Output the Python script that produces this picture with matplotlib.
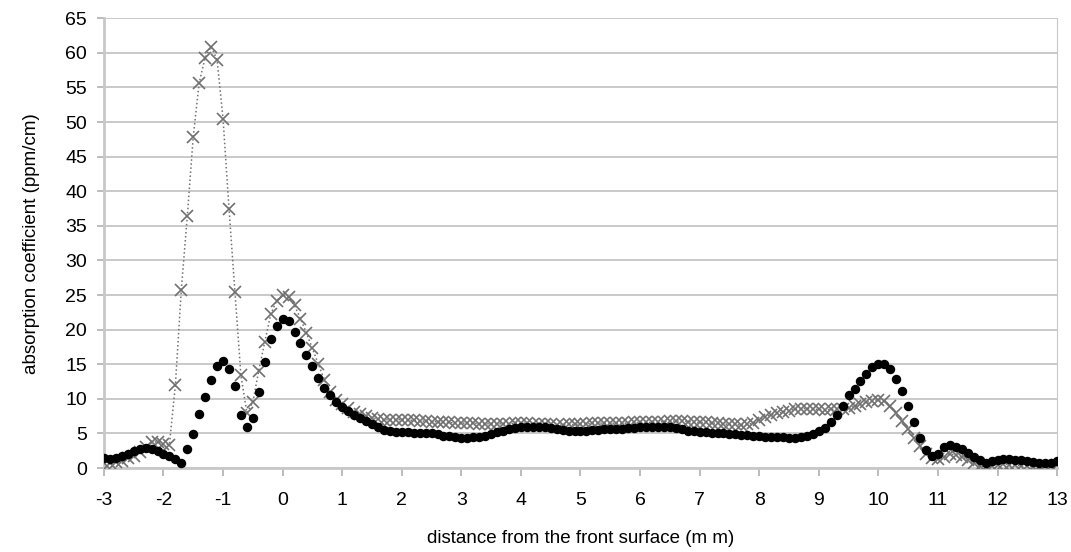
import numpy as np
import matplotlib.pyplot as plt

plt.rcParams['font.family'] = ['Liberation Sans', 'DejaVu Sans']
plt.rcParams['axes.unicode_minus'] = False

# positions along the sample (mm), 0.1 mm step
x = np.round(np.arange(-3.0, 13.05, 0.1), 1)

# black circles
black = [
    1.4, 1.3, 1.4, 1.7, 2.1, 2.5, 2.8, 2.9, 2.8, 2.5,     # -3.0 .. -2.1
    2.1, 1.7, 1.3, 0.8, 2.8, 4.9, 7.8, 10.3, 12.8, 14.7,  # -2.0 .. -1.1
    15.5, 14.3, 11.8, 7.7, 5.9, 7.2, 11.0, 15.3, 18.7, 20.6,  # -1.0 .. -0.1
    21.6, 21.2, 19.7, 18.1, 16.3, 14.8, 13.0, 11.6, 10.5, 9.6,  # 0.0 .. 0.9
    8.8, 8.2, 7.7, 7.2, 6.8, 6.4, 5.9, 5.5, 5.3, 5.2,     # 1.0 .. 1.9
    5.2, 5.2, 5.1, 5.1, 5.0, 5.0, 4.9, 4.7, 4.6, 4.5,     # 2.0 .. 2.9
    4.4, 4.4, 4.5, 4.5, 4.7, 4.9, 5.2, 5.4, 5.6, 5.8,     # 3.0 .. 3.9
    5.9, 6.0, 6.0, 6.0, 5.9, 5.8, 5.7, 5.5, 5.4, 5.4,     # 4.0 .. 4.9
    5.4, 5.4, 5.5, 5.5, 5.6, 5.7, 5.7, 5.7, 5.8, 5.8,     # 5.0 .. 5.9
    5.9, 6.0, 6.0, 6.0, 6.0, 6.0, 5.8, 5.6, 5.4, 5.3,     # 6.0 .. 6.9
    5.2, 5.2, 5.1, 5.1, 5.0, 4.9, 4.9, 4.8, 4.8, 4.7,     # 7.0 .. 7.9
    4.6, 4.5, 4.5, 4.5, 4.5, 4.4, 4.4, 4.5, 4.7, 4.9,     # 8.0 .. 8.9
    5.3, 5.8, 6.6, 7.6, 8.9, 10.5, 11.4, 12.6, 13.6, 14.6,  # 9.0 .. 9.9
    15.1, 15.0, 14.3, 12.9, 11.1, 9.0, 6.7, 4.4, 2.6, 1.8,  # 10.0 .. 10.9
    2.0, 3.0, 3.3, 3.1, 2.7, 2.2, 1.6, 1.1, 0.8, 1.0,     # 11.0 .. 11.9
    1.2, 1.3, 1.3, 1.2, 1.1, 1.0, 0.9, 0.8, 0.8, 0.8,     # 12.0 .. 12.9
    1.0,                                                  # 13.0
]

# grey crosses
grey = [
    0.8, 0.8, 0.9, 1.0, 1.4, 1.8, 2.3, 3.0, 3.7, 3.8,     # -3.0 .. -2.1
    3.5, 3.4, 12.0, 25.8, 36.4, 47.9, 55.7, 59.3, 60.9, 59.0,  # -2.0 .. -1.1
    50.5, 37.5, 25.5, 13.4, 8.0, 9.5, 14.1, 18.2, 22.2, 24.2,  # -1.0 .. -0.1
    25.0, 24.7, 23.5, 21.6, 19.5, 17.3, 15.0, 12.8, 11.0, 9.9,  # 0.0 .. 0.9
    9.2, 8.7, 8.1, 7.8, 7.5, 7.3, 7.1, 7.0, 7.0, 7.0,     # 1.0 .. 1.9
    7.0, 6.9, 6.9, 6.8, 6.8, 6.7, 6.7, 6.6, 6.6, 6.5,     # 2.0 .. 2.9
    6.5, 6.5, 6.5, 6.4, 6.4, 6.4, 6.4, 6.4, 6.4, 6.5,     # 3.0 .. 3.9
    6.5, 6.5, 6.4, 6.4, 6.3, 6.3, 6.2, 6.2, 6.3, 6.3,     # 4.0 .. 4.9
    6.4, 6.4, 6.5, 6.5, 6.5, 6.5, 6.5, 6.5, 6.5, 6.6,     # 5.0 .. 5.9
    6.6, 6.6, 6.6, 6.7, 6.7, 6.8, 6.8, 6.8, 6.7, 6.7,     # 6.0 .. 6.9
    6.6, 6.6, 6.5, 6.5, 6.4, 6.3, 6.3, 6.2, 6.3, 6.5,     # 7.0 .. 7.9
    7.0, 7.4, 7.7, 7.9, 8.1, 8.3, 8.5, 8.6, 8.6, 8.5,     # 8.0 .. 8.9
    8.5, 8.4, 8.5, 8.5, 8.6, 8.7, 8.9, 9.2, 9.5, 9.7,     # 9.0 .. 9.9
    9.9, 9.7, 9.0, 7.9, 6.8, 5.6, 4.4, 3.2, 2.1, 1.4,     # 10.0 .. 10.9
    1.3, 1.6, 2.0, 1.9, 1.6, 1.1, 0.7, 0.3, 0.2, 0.3,     # 11.0 .. 11.9
    0.5, 0.6, 0.5, 0.4, 0.3, 0.3, 0.2, 0.2, 0.3, 0.3,     # 12.0 .. 12.9
    0.5,                                                  # 13.0
]

fig = plt.figure(figsize=(10.71, 5.52), dpi=100)
ax = fig.add_axes([0.097, 0.152, 0.89, 0.815])

ax.plot(x, grey, color='#707070', linestyle=':', linewidth=1.1,
        marker='x', markersize=8, markeredgewidth=1.2, zorder=3)
ax.plot(x, black, linestyle='none', marker='o', color='black',
        markersize=5.8, zorder=4)

ax.set_xlim(-3, 13)
ax.set_ylim(0, 65)
ax.set_xticks(np.arange(-3, 14, 1))
ax.set_yticks(np.arange(0, 66, 5))

ax.grid(axis='y', color='#c0c0c0', linewidth=1.2)
ax.set_axisbelow(True)
for s in ['left', 'bottom']:
    ax.spines[s].set_color('#c8c8c8')
    ax.spines[s].set_linewidth(2)
ax.spines['right'].set_color('#c8c8c8')
ax.spines['top'].set_visible(False)

ax.tick_params(axis='x', colors='#b0b0b0', length=6, width=1.2, pad=11,
               labelcolor='black', labelsize=14)
ax.tick_params(axis='y', colors='#b0b0b0', length=5, width=1.2, pad=7,
               labelcolor='black', labelsize=14)

ax.set_xlabel('distance from the front surface (m m)', fontsize=13.5, labelpad=15)
ax.set_ylabel('absorption coefficient (ppm/cm)', fontsize=13.5, labelpad=18)

fig.savefig('out.png', dpi=100)
